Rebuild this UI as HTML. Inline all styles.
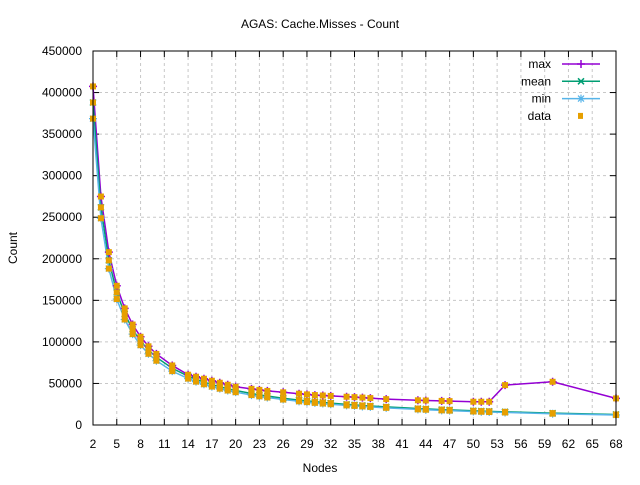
<!DOCTYPE html>
<html><head><meta charset="utf-8"><style>
body{margin:0;background:#fff}
svg text{font-family:"Liberation Sans",Arial,sans-serif;font-size:12px;fill:#000}
</style></head><body>
<svg id="s" width="640" height="480" xmlns="http://www.w3.org/2000/svg">
<rect width="640" height="480" fill="#fff"/>
<g id="grid" stroke="#c8c8c8" stroke-dasharray="3,3" stroke-width="1"></g>
<g id="ticks" stroke="#000"></g>
<g id="lab"></g>
<g id="ser"></g>
<rect x="93" y="51" width="523" height="374" fill="none" stroke="#000" stroke-width="1"/>
<text x="320" y="28" text-anchor="middle">AGAS: Cache.Misses - Count</text>
<text x="320" y="472" text-anchor="middle">Nodes</text>
<text transform="translate(17,248) rotate(-90)" text-anchor="middle">Count</text>
<g id="leg"></g>
</svg>
<script>
const NS="http://www.w3.org/2000/svg";
function el(p,t,a,txt){const e=document.createElementNS(NS,t);for(const k in a)e.setAttribute(k,a[k]);if(txt!==undefined)e.textContent=txt;document.getElementById(p).appendChild(e);return e;}
const X=n=>93+(n-2)*523/66, Y=v=>425-v/450000*374;
for(let v=0;v<=450000;v+=50000){const y=Y(v);
 if(v>0&&v<450000)el('grid','line',{x1:93,x2:616,y1:y,y2:y});
 el('ticks','line',{x1:93,x2:99,y1:y,y2:y});el('ticks','line',{x1:616,x2:610,y1:y,y2:y});
 el('lab','text',{x:82,y:y+4,'text-anchor':'end'},v);}
for(let n=2;n<=68;n+=3){const x=X(n);
 if(n>2&&n<68)el('grid','line',{x1:x,x2:x,y1:51,y2:425});
 el('ticks','line',{x1:x,x2:x,y1:425,y2:419});el('ticks','line',{x1:x,x2:x,y1:51,y2:57});
 el('lab','text',{x:x,y:448,'text-anchor':'middle'},n);}
const N=[2,3,4,5,6,7,8,9,10,12,14,15,16,17,18,19,20,22,23,24,26,28,29,30,31,32,34,35,36,37,39,43,44,46,47,50,51,52,54,60,68];
const mean=n=>388000*Math.pow(2/n,0.97);
const mk=[[14,60500],[20,46000],[24,41000],[30,36000],[36,33000],[40,30500],[46,29000],[50,28000],[52,28000],[54,48000],[60,52000],[68,32000]];
function maxv(n){if(n<14)return mean(n)*1.05;for(let i=0;i<mk.length-1;i++){const[a,b]=mk[i],[c,d]=mk[i+1];if(n>=a&&n<=c)return b+(d-b)*(n-a)/(c-a);}return 32000;}
const minv=n=>mean(n)*0.95;
const S=[['#9400d3',maxv],['#009e73',mean],['#56b4e9',minv]];
S.forEach(([c,f])=>{el('ser','polyline',{points:N.map(n=>X(n)+','+Y(f(n))).join(' '),fill:'none',stroke:c,'stroke-width':1.5});});
function marker(i,x,y){const c=S[i][0];
 if(i==0){el('ser','path',{d:`M${x-4},${y}h8M${x},${y-4}v8`,stroke:c,'stroke-width':1.5});}
 else if(i==1){el('ser','path',{d:`M${x-3},${y-3}l6,6M${x-3},${y+3}l6,-6`,stroke:c,'stroke-width':1.5});}
 else{el('ser','path',{d:`M${x-4},${y}h8M${x},${y-4}v8M${x-3},${y-3}l6,6M${x-3},${y+3}l6,-6`,stroke:c,'stroke-width':1.2});}}
N.forEach(n=>S.forEach((s,i)=>marker(i,X(n),Y(s[1](n)))));
N.forEach(n=>S.forEach(s=>el('ser','rect',{x:X(n)-3,y:Y(s[1](n))-3,width:6,height:6,fill:'#e69f00'})));
['max','mean','min','data'].forEach((t,i)=>{const y=64+i*17.3;
 el('leg','text',{x:551,y:y+4,'text-anchor':'end'},t);
 if(i<3){el('leg','line',{x1:562,x2:600,y1:y,y2:y,stroke:S[i][0],'stroke-width':1.5});marker(i,581,y);}
 else el('leg','rect',{x:578,y:y-3,width:5,height:6,fill:'#e69f00'});});
</script>
</body></html>
